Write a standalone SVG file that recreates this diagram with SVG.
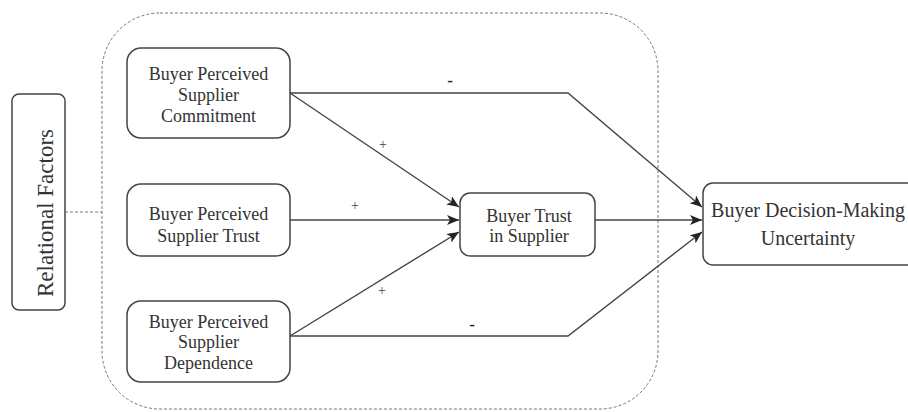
<svg xmlns="http://www.w3.org/2000/svg" width="908" height="412" viewBox="0 0 908 412">
  <defs>
    <marker id="arrow" viewBox="0 0 12 10" refX="12" refY="5" markerWidth="12" markerHeight="10" markerUnits="userSpaceOnUse" orient="auto">
      <path d="M0,0 L12,5 L0,10 L3,5 Z" fill="#222"/>
    </marker>
  </defs>
  <style>
    .box { fill: #fff; stroke: #444; stroke-width: 1.5; }
    .lbl { font-family: "Liberation Serif", "Times New Roman", serif; font-size: 18px; fill: #333; text-anchor: middle; }
    .big { font-size: 20px; }
    .sign { font-family: "Liberation Serif", "Times New Roman", serif; font-size: 14px; fill: #444; text-anchor: middle; }
    .minus { font-size: 17px; font-weight: bold; fill: #222; }
    .link { fill: none; stroke: #444; stroke-width: 1.4; }
    .dash { fill: none; stroke: #777; stroke-width: 1; stroke-dasharray: 3 2; }
  </style>
  <rect width="908" height="412" fill="#fff"/>

  <!-- dashed grouping frame -->
  <g id="relational-group">
    <rect class="dash" x="102" y="13" width="556" height="396" rx="58" ry="58"/>
  </g>

  <g id="relational-factors">
    <rect class="box" x="12" y="94" width="53" height="216" rx="7"/>
    <text class="lbl" style="font-size:23px" transform="translate(53,213) rotate(-90)">Relational Factors</text>
  </g>

  <g id="commitment">
    <rect class="box" x="127" y="48" width="163" height="90" rx="14"/>
    <text class="lbl" x="208.5" y="80">Buyer Perceived</text>
    <text class="lbl" x="208.5" y="101">Supplier</text>
    <text class="lbl" x="208.5" y="122">Commitment</text>
  </g>

  <g id="supplier-trust">
    <rect class="box" x="127" y="184" width="163" height="72" rx="14"/>
    <text class="lbl" x="208.5" y="220">Buyer Perceived</text>
    <text class="lbl" x="208.5" y="242">Supplier Trust</text>
  </g>

  <g id="dependence">
    <rect class="box" x="127" y="301" width="163" height="81" rx="14"/>
    <text class="lbl" x="208.5" y="328">Buyer Perceived</text>
    <text class="lbl" x="208.5" y="348">Supplier</text>
    <text class="lbl" x="208.5" y="369">Dependence</text>
  </g>

  <g id="buyer-trust">
    <rect class="box" x="460" y="193" width="135" height="63" rx="10"/>
    <text class="lbl" x="529" y="222">Buyer Trust</text>
    <text class="lbl" x="529" y="242">in Supplier</text>
  </g>

  <g id="uncertainty">
    <rect class="box" x="703" y="183" width="230" height="82" rx="10"/>
    <text class="lbl big" x="808" y="217">Buyer Decision-Making</text>
    <text class="lbl big" x="808" y="245">Uncertainty</text>
  </g>

  <g id="connectors">
    <line class="dash" x1="65" y1="212" x2="102" y2="212"/>
    <polyline class="link" points="290,93 568,93 702,207" marker-end="url(#arrow)"/>
    <line class="link" x1="290" y1="93" x2="459" y2="207" marker-end="url(#arrow)"/>
    <line class="link" x1="290" y1="220" x2="459" y2="220" marker-end="url(#arrow)"/>
    <line class="link" x1="290" y1="336" x2="459" y2="232" marker-end="url(#arrow)"/>
    <polyline class="link" points="290,336 568,336 702,232" marker-end="url(#arrow)"/>
    <line class="link" x1="595" y1="220" x2="702" y2="220" marker-end="url(#arrow)"/>
    <text class="sign minus" x="450" y="86">-</text>
    <text class="sign minus" x="472" y="330">-</text>
    <text class="sign" x="383" y="149">+</text>
    <text class="sign" x="355" y="210">+</text>
    <text class="sign" x="382" y="295">+</text>
  </g>
</svg>
